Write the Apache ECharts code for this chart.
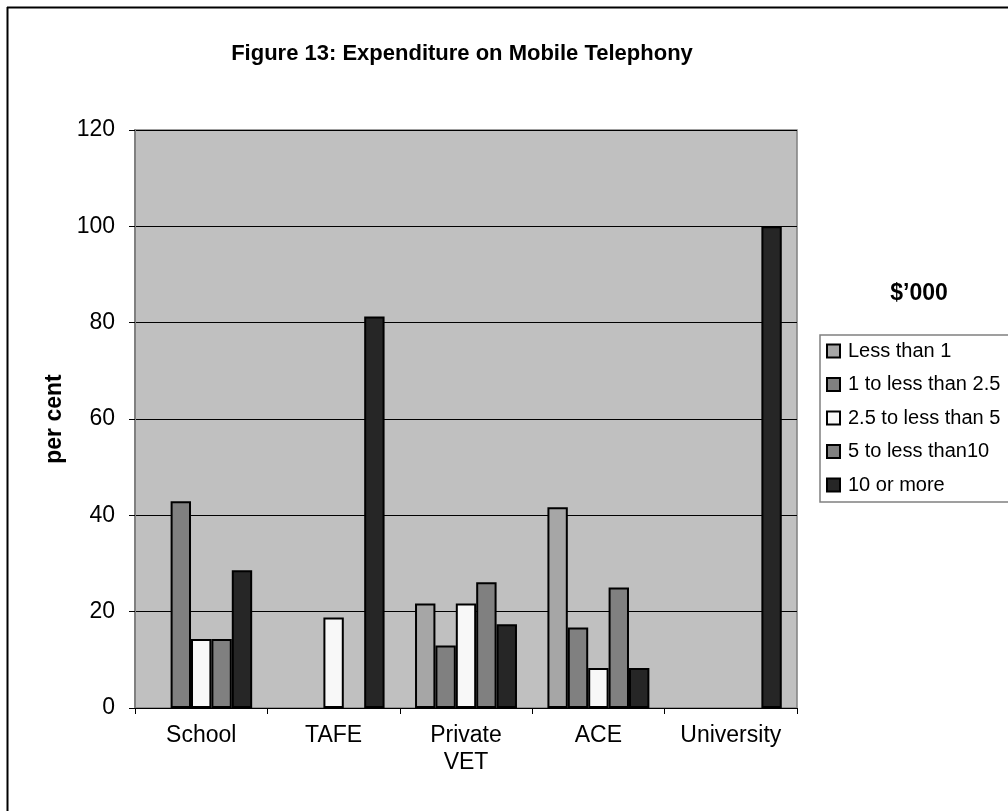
<!DOCTYPE html>
<html>
<head>
<meta charset="utf-8">
<script src="https://cdn.jsdelivr.net/npm/echarts@6/dist/echarts.min.js"></script>
<style>
  html, body { margin: 0; padding: 0; background: #fff; }
  #chart { width: 1008px; height: 811px; }
</style>
</head>
<body>
<div id="chart"></div>
<script>
var categories = ['School', 'TAFE', 'Private\nVET', 'ACE', 'University']
var seriesNames = ['Less than 1', '1 to less than 2.5', '2.5 to less than 5', '5 to less than10', '10 or more']
var lessThan1 = ['-', '-', 21.7, 41.7, '-']
var oneTo2_5 = [42.9, '-', 13.0, 16.7, '-']
var twoHalfTo5 = [14.3, 18.8, 21.7, 8.3, '-']
var fiveTo10 = [14.3, '-', 26.1, 25.0, '-']
var tenOrMore = [28.6, 81.3, 17.4, 8.3, 100]
var yTicks = [0, 20, 40, 60, 80, 100, 120]

var FONT = "'Liberation Sans', Arial, sans-serif"
var colors = ['#a6a6a6', '#808080', '#f8f8f8', '#808080', '#262626']
var values = [lessThan1, oneTo2_5, twoHalfTo5, fiveTo10, tenOrMore]

var chart = echarts.init(document.getElementById('chart'))

var series = seriesNames.map(function (name, i) {
    return {
        name: name,
        type: 'bar',
        data: values[i],
        barGap: '0%',
        barCategoryGap: '23%',
        itemStyle: { color: colors[i], borderColor: '#000', borderWidth: 2 }
    }
})

chart.setOption({
    animation: false,
    backgroundColor: '#fff',
    textStyle: { fontFamily: FONT, color: '#000' },
    title: [
        {
            text: 'Figure 13: Expenditure on Mobile Telephony',
            left: 457, top: 38, textAlign: 'center',
            textStyle: { fontFamily: FONT, fontSize: 22, fontWeight: 'bold', color: '#000' }
        },
        {
            text: '$\u2019000',
            left: 914, top: 277, textAlign: 'center',
            textStyle: { fontFamily: FONT, fontSize: 23, fontWeight: 'bold', color: '#000' }
        }
    ],
    legend: {
        orient: 'vertical',
        left: 820, top: 335,
        padding: [6, 80, 7, 6],
        itemWidth: 13, itemHeight: 13, itemGap: 13.5,
        icon: 'rect',
        borderColor: '#808080', borderWidth: 1.5,
        textStyle: { fontFamily: FONT, fontSize: 20, color: '#000', padding: [0, 0, 0, 3] },
        itemStyle: { borderColor: '#000', borderWidth: 2 },
        data: seriesNames
    },
    grid: {
        left: 135, right: 211, top: 130, bottom: 103,
        show: true, backgroundColor: '#c0c0c0', borderColor: '#808080', borderWidth: 1.5
    },
    xAxis: {
        type: 'category',
        data: categories,
        axisLine: { lineStyle: { color: '#000', width: 1 } },
        axisTick: { show: true, length: 6, lineStyle: { color: '#000' } },
        axisLabel: { fontFamily: FONT, fontSize: 23, color: '#000', margin: 14, lineHeight: 27 }
    },
    yAxis: {
        type: 'value',
        min: yTicks[0], max: yTicks[yTicks.length - 1], interval: 20,
        name: 'per cent',
        nameLocation: 'middle',
        nameGap: 67,
        nameTextStyle: { fontFamily: FONT, fontSize: 23, fontWeight: 'bold', color: '#000' },
        axisLine: { show: true, lineStyle: { color: '#808080', width: 2 } },
        axisTick: { show: true, length: 6, lineStyle: { color: '#000' } },
        axisLabel: { fontFamily: FONT, fontSize: 23, color: '#000', margin: 20 },
        splitLine: { show: true, lineStyle: { color: '#000', width: 1 } }
    },
    graphic: [
        { type: 'line', shape: { x1: 7.5, y1: 7, x2: 7.5, y2: 811 }, style: { stroke: '#000', lineWidth: 2 } },
        { type: 'line', shape: { x1: 7, y1: 7.5, x2: 1008, y2: 7.5 }, style: { stroke: '#000', lineWidth: 2 } }
    ],
    series: series
})
</script>
</body>
</html>
